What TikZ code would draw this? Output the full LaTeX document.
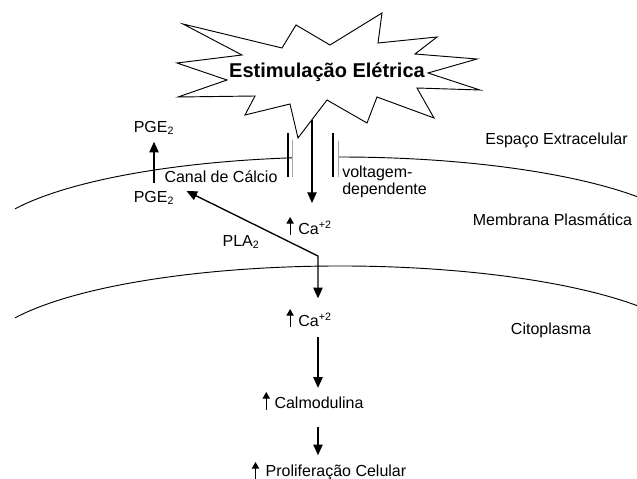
\documentclass[tikz,border=0pt]{standalone}
\usepackage{fontspec}
\setmainfont{Liberation Sans}
\usetikzlibrary{arrows.meta}

\begin{document}
\begin{tikzpicture}[x=0.75pt,y=0.75pt,
	lbl/.style={inner sep=0pt, font=\fontsize{12}{12.75}\selectfont},
	flow/.style={-{Triangle[length=8pt,width=7pt]}, line width=1pt},
	rise/.style={-{Triangle[length=5pt,width=5.5pt]}, line width=0.8pt},
	wall/.style={line width=1.1pt},
	wallin/.style={line width=0.5pt, gray!70},
	membr/.style={line width=0.7pt}]
	\useasboundingbox (0,0) rectangle (637,479);
	\coordinate (mtop) at (340,231);
	\coordinate (mbot) at (340,122);
	\coordinate (castart) at (312,359);
	\coordinate (cain) at (312,276);
	\coordinate (corner) at (318,223);
	% Star
	\draw[line width=0.7pt] (183,455) -- (282,431) -- (296,454) -- (330,434) -- (382,466) -- (378,436)
		-- (437,442) -- (415,425) -- (477,420) -- (428,406) -- (480,389) -- (417,391) -- (434,361)
		-- (377,382) -- (367,356) -- (327,379) -- (298,341) -- (290,375) -- (245,364) -- (255,383)
		-- (178,382) -- (227,399) -- (177,416) -- (242,424) -- cycle;
	\node[font=\fontsize{15}{18}\selectfont\bfseries] (estim) at (327,407) {Estimulação Elétrica};
	
	% Membrane
	\draw[membr] (mtop) ++(154.5:360 and 91) arc[start angle=154.5, end angle=97.66, x radius=360, y radius=91];
	\draw[membr] (mtop) ++(90.3:360 and 91) arc[start angle=90.3, end angle=34.4, x radius=360, y radius=91];
	\draw[membr] (mbot) ++(154.5:360 and 91) arc[start angle=154.5, end angle=34.4, x radius=360, y radius=91];
	
	% Channel
	\draw[wall] (288,346) -- (288,302);
	\draw[wallin] (292,339) -- (292,302);
	\draw[wall] (333,346) -- (333,302);
	\draw[wallin] (338,338) -- (338,302);
	\draw[flow] (castart) -- (cain);
	
	\node[lbl] (pgeT) at (154,351) {PGE\textsubscript{2}};
	\node[lbl] (pgeB) at (154,281) {PGE\textsubscript{2}};
	\draw[flow, shorten <=6pt, shorten >=5pt] (pgeB) -- (pgeT);
	\node[lbl] (canal) at (221,302) {Canal de Cálcio};
	\node[lbl, anchor=west, align=left] (volt) at (342,297.5) {voltagem-\\dependente};
	\node[lbl] (ca1) at (315,251) {Ca\textsuperscript{+2}};
	\node[lbl] (pla) at (241,237) {PLA\textsubscript{2}};
	\node[lbl] (ca2) at (315,159) {Ca\textsuperscript{+2}};
	\node[lbl] (calm) at (319,76) {Calmodulina};
	\node[lbl] (prolif) at (336,7) {Proliferação Celular};
	
	% Regions
	\node[lbl] (extra) at (556.5,339) {Espaço Extracelular};
	\node[lbl] (memb) at (552.5,259) {Membrana Plasmática};
	\node[lbl] (cito) at (551,149) {Citoplasma};
	
	% Pathway
	\draw[line width=1pt, {Triangle[length=8pt,width=7pt]}-{Triangle[length=8pt,width=7pt]}, shorten >=11pt]
		([shift={(12,7)}]pgeB.east) -- (corner) -- (corner |- ca2.north);
	\draw[flow, shorten <=7.5pt, shorten >=6.75pt] (corner |- ca2.south) -- (corner |- calm.north);
	\draw[flow, shorten <=13.5pt, shorten >=6.75pt] (corner |- calm.south) -- (corner |- prolif.north);
	\draw[rise] ([xshift=-6pt,yshift=-5.25pt]ca1.west) -- ++(0,18);
	\draw[rise] ([xshift=-6pt,yshift=-5.25pt]ca2.west) -- ++(0,18);
	\draw[rise] ([xshift=-6pt,yshift=-5.25pt]calm.west) -- ++(0,18);
	\draw[rise] ([xshift=-7.5pt,yshift=-5.25pt]prolif.west) -- ++(0,17);
\end{tikzpicture}
\end{document}
